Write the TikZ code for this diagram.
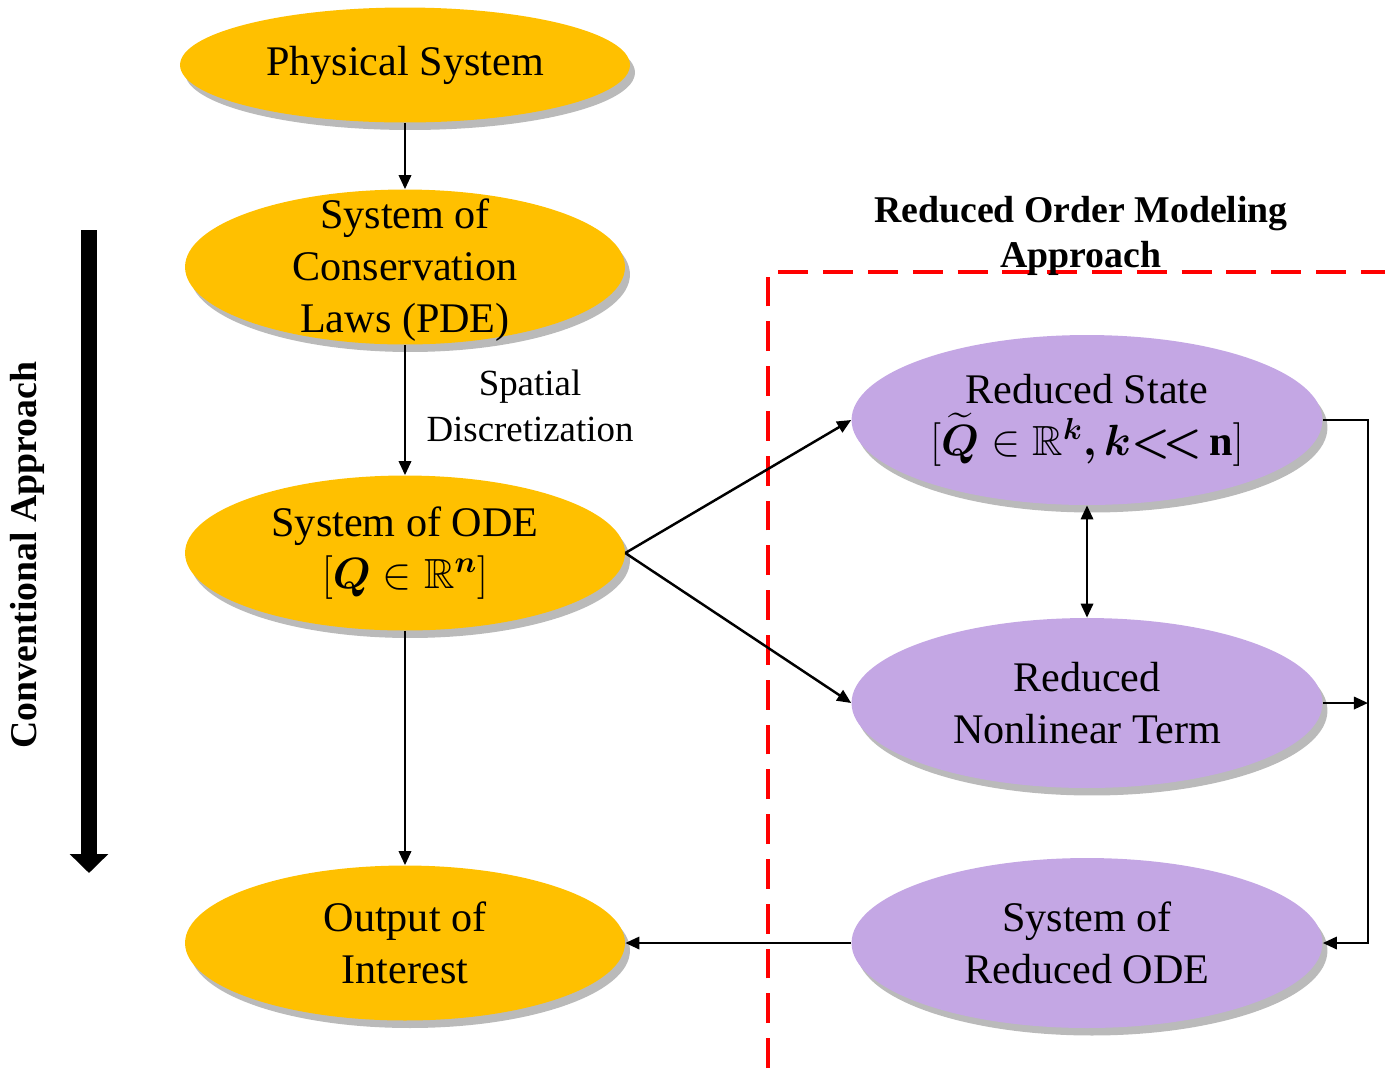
\documentclass[tikz,border=0pt]{standalone}
\usepackage{amsmath}
\usepackage{amssymb}
\usepackage{fontspec}
\setmainfont{Liberation Serif}
\usepackage{tikz}
\usetikzlibrary{shapes.geometric,shadows,arrows.meta}
\definecolor{amber}{RGB}{255,192,0}
\definecolor{lilac}{RGB}{196,167,228}
\newcommand{\flatlines}[1]{\smash{\raisebox{-0.28cm}{\begin{tabular}{@{}c@{}}#1\end{tabular}}}}

\begin{document}
\begin{tikzpicture}[x=0.02cm, y=-0.02cm,
  every node/.style={align=center, font=\fontsize{24}{29.5}\selectfont},
  convnode/.style={ellipse, fill=amber, inner sep=0pt, minimum width=8.8cm, minimum height=3.1cm,
    drop shadow={shadow xshift=0.1cm, shadow yshift=-0.15cm, fill=black!45, opacity=0.6}},
  romnode/.style={ellipse, fill=lilac, inner sep=0pt, minimum width=9.42cm, minimum height=3.4cm,
    drop shadow={shadow xshift=0.1cm, shadow yshift=-0.15cm, fill=black!45, opacity=0.6}},
  flow/.style={line width=1.4pt, -{Triangle[length=8pt,width=7pt]}},
  bothflow/.style={line width=1.4pt, {Triangle[length=8pt,width=7pt]}-{Triangle[length=8pt,width=7pt]}}]
\useasboundingbox (0,0) rectangle (1385,1076);

\node[convnode, minimum width=9cm, minimum height=2.3cm] (phys) at (405,65) {Physical System};
\node[convnode] (cons) at (405,267) {\flatlines{System of\\Conservation\\Laws (PDE)}};
\node[convnode] (ode) at (405,553) {System of ODE\\$[\boldsymbol{Q}\in\mathbb{R}^{\boldsymbol{n}}]$};
\node[convnode] (out) at (405,943) {Output of\\Interest};

\node[romnode] (rstate) at (1087,420) {Reduced State\\$[\widetilde{\boldsymbol{Q}}\in\mathbb{R}^{\boldsymbol{k}}\boldsymbol{,}\,\boldsymbol{k}{\boldsymbol{<}\!\boldsymbol{<}}\,\mathbf{n}]$};
\node[romnode] (nonlin) at (1087,703) {Reduced\\Nonlinear Term};
\node[romnode] (rode) at (1087,943) {System of\\Reduced ODE};

\node[font=\fontsize{21}{26}\selectfont] (disc) at (530,406) {Spatial\\Discretization};

% red dashed frame of the ROM part
\draw[red, line width=2.2pt, dash pattern=on 17pt off 8.5pt] (768,1068) -- (768,272) -- (1385,272);
\node[font=\fontsize{21.5}{25.5}\selectfont\bfseries] (romtitle) at (1081,236) {Reduced Order Modeling\\Approach};

% conventional approach
\coordinate (convtop) at (89,230);
\coordinate (convbot) at (89,873);
\draw[line width=9pt, -{Triangle[length=0.38cm,width=0.75cm]}] (convtop) -- (convbot);
\node[rotate=90, font=\fontsize{21.5}{25.5}\selectfont\bfseries] (convlabel) at (27,555) {Conventional Approach};

\draw[flow] (phys) -- (cons.north);
\draw[flow] (cons.south) -- (ode);
\draw[flow] (ode) -- (out);
\draw[flow] (ode.east) -- (rstate.west);
\draw[flow] (ode.east) -- (nonlin.west);
\draw[bothflow] (rstate) -- (nonlin);

\coordinate (bus) at (1368,420);
\draw[flow] (rstate.east) -- (bus) |- (rode.east);
\draw[flow] (nonlin.east) -- (nonlin.east -| bus);
\draw[flow] (rode) -- (out);
\end{tikzpicture}
\end{document}
